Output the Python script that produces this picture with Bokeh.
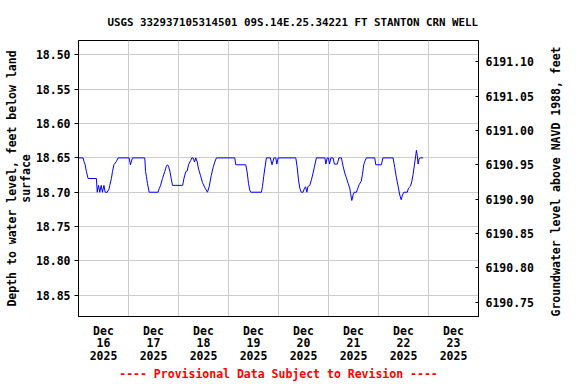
import math
from bokeh.plotting import figure
from bokeh.models import Range1d, LinearAxis, FixedTicker, PrintfTickFormatter
from bokeh.embed import file_html
from bokeh.resources import INLINE

# ---------------- data ----------------
TITLE = "USGS 332937105314501 09S.14E.25.34221 FT STANTON CRN WELL"
LEFT_LABEL = "Depth to water level, feet below land\nsurface"
RIGHT_LABEL = "Groundwater level above NAVD 1988, feet"
CAPTION = "---- Provisional Data Subject to Revision ----"

day_labels = ["Dec\n16\n2025", "Dec\n17\n2025", "Dec\n18\n2025", "Dec\n19\n2025",
              "Dec\n20\n2025", "Dec\n21\n2025", "Dec\n22\n2025", "Dec\n23\n2025"]
depth_ticks = [18.50, 18.55, 18.60, 18.65, 18.70, 18.75, 18.80, 18.85]
elev_ticks = [6190.75, 6190.80, 6190.85, 6190.90, 6190.95, 6191.00, 6191.05, 6191.10]

LAND_SURFACE = 6209.61  # elevation of land surface (ft, NAVD 1988)

# hours since 2025-12-16 00:00
hours = [0.0, 2.2, 2.6, 3.2, 3.8, 4.6, 8.6, 9.0, 9.6, 10.2, 10.9, 11.5, 12.2, 12.8, 13.8,
         14.7, 15.0, 15.8, 16.3, 17.0, 18.2, 19.0, 24.3, 24.9, 25.9, 31.8,
         32.2, 32.6, 33.1, 33.9, 38.2, 38.7, 39.4, 40.3, 41.4, 42.2, 42.7, 43.2, 43.9,
         44.5, 45.1, 50.0, 50.6, 51.5, 52.2, 52.8, 53.8, 54.4, 55.0, 55.7, 56.3, 57.0,
         57.6, 58.6, 59.5, 60.8, 61.9, 62.7, 63.7, 64.6, 65.4, 66.2,
         75.0, 75.5, 80.3, 81.0, 81.6, 82.2, 82.7, 87.8, 88.3, 88.9, 89.6, 90.2, 92.1,
         92.9, 93.8, 94.7, 95.2, 95.8,
         104.3, 104.9, 105.6, 106.2, 106.9, 107.8, 108.5, 109.0, 109.6, 110.1, 111.0,
         111.8, 112.6, 113.3, 114.2, 118.3, 118.7, 119.4, 120.0, 120.5, 121.1, 122.2,
         122.8, 124.2, 125.0, 126.2, 127.0, 127.8, 128.6, 129.4, 130.2, 130.6, 131.2,
         131.8, 132.3,
         133.4, 134.1, 134.7, 135.7, 136.3, 136.9, 137.6, 138.2, 142.2, 142.7, 145.4,
         146.1, 151.0, 151.8, 152.6, 153.4, 154.2, 154.9, 155.5, 156.2, 157.8, 158.4,
         159.4, 160.0, 160.6, 161.3, 161.9, 162.2, 162.6, 163.0, 163.5, 164.2, 165.4]
depth = [18.650, 18.650, 18.655, 18.660, 18.670, 18.680, 18.680, 18.700, 18.690, 18.700,
         18.690, 18.700, 18.690, 18.700, 18.700, 18.695, 18.690, 18.680, 18.670, 18.660,
         18.655, 18.650, 18.650, 18.660, 18.650, 18.650,
         18.670, 18.677, 18.687, 18.700, 18.700, 18.695, 18.690, 18.680, 18.670, 18.662,
         18.660, 18.662, 18.670, 18.680, 18.690, 18.690, 18.680, 18.670, 18.669, 18.660,
         18.654, 18.650, 18.650, 18.656, 18.650, 18.656, 18.666, 18.676, 18.686, 18.694,
         18.700, 18.692, 18.676, 18.664, 18.656, 18.650,
         18.650, 18.660, 18.660, 18.672, 18.687, 18.697, 18.700, 18.700, 18.692, 18.677,
         18.662, 18.650, 18.650, 18.660, 18.650, 18.650, 18.659, 18.650,
         18.650, 18.662, 18.682, 18.694, 18.700, 18.700, 18.694, 18.692, 18.700, 18.692,
         18.690, 18.682, 18.672, 18.662, 18.650, 18.650, 18.659, 18.650, 18.650, 18.659,
         18.650, 18.650, 18.659, 18.659, 18.650, 18.650, 18.662, 18.672, 18.679, 18.687,
         18.694, 18.702, 18.712, 18.704, 18.700,
         18.700, 18.694, 18.689, 18.684, 18.674, 18.660, 18.654, 18.650, 18.650, 18.660,
         18.660, 18.650, 18.650, 18.664, 18.679, 18.691, 18.704, 18.711, 18.704, 18.700,
         18.700, 18.694, 18.691, 18.684, 18.674, 18.659, 18.646, 18.639, 18.646, 18.659,
         18.651, 18.650, 18.650]

# ---------------- layout ----------------
W, H = 576, 384
BL, BR, BT, BB = 78, 98, 40, 68
X0, X1 = 0.0, 8.0
D_TOP, D_BOT = 18.479, 18.881

FONT = "DejaVu Sans Mono"
FS = "11.5px"

x_days = [h / 24.0 for h in hours]

p = figure(width=W, height=H, output_backend="svg", toolbar_location=None,
           x_range=Range1d(X0, X1), y_range=Range1d(D_BOT, D_TOP),
           min_border_left=BL, min_border_right=BR, min_border_top=BT,
           min_border_bottom=BB)
p.background_fill_color = "white"
p.border_fill_color = "white"
p.outline_line_color = "black"
p.outline_line_width = 1
p.outline_line_alpha = 1.0

# title
p.title.text = TITLE
p.title.align = "left"
p.title.offset = 29
p.title.standoff = 24
p.title.text_font = FONT
p.title.text_font_style = "bold"
p.title.text_font_size = "10.8px"
p.title.text_color = "black"

p.line(x_days, depth, line_color="#0000FF", line_width=1)


def style_axis(ax):
    ax.minor_tick_line_color = None
    ax.axis_line_color = "black"
    ax.major_label_text_font = FONT
    ax.major_label_text_font_style = "bold"
    ax.major_label_text_font_size = FS
    ax.major_label_text_color = "black"
    ax.axis_label_text_font = FONT
    ax.axis_label_text_font_style = "bold"
    ax.axis_label_text_font_size = FS
    ax.axis_label_text_color = "black"


# x axis (its label carries the provisional-data caption)
label_pos = [i + 0.5 for i in range(len(day_labels))]
xa = p.xaxis[0]
style_axis(xa)
xa.ticker = FixedTicker(ticks=label_pos)
xa.major_label_overrides = {pos: lab for pos, lab in zip(label_pos, day_labels)}
xa.major_tick_line_color = None
xa.major_tick_out = 0
xa.major_tick_in = 0
xa.major_label_standoff = 7
xa.major_label_text_line_height = 0.9
xa.axis_label = CAPTION
xa.axis_label_text_color = "#FF0000"
xa.axis_label_standoff = 1

# left axis
ya = p.yaxis[0]
style_axis(ya)
ya.ticker = FixedTicker(ticks=depth_ticks)
ya.formatter = PrintfTickFormatter(format="%.2f")
ya.major_tick_out = 4
ya.major_tick_in = 0
ya.major_label_standoff = 4
ya.axis_label = LEFT_LABEL
ya.axis_label_standoff = 0
ya.axis_label_text_line_height = 1.0

# right axis (elevation)
p.extra_y_ranges = {"elev": Range1d(LAND_SURFACE - D_BOT, LAND_SURFACE - D_TOP)}
ra = LinearAxis(y_range_name="elev")
style_axis(ra)
ra.ticker = FixedTicker(ticks=elev_ticks)
ra.formatter = PrintfTickFormatter(format="%.2f")
ra.major_tick_out = 0
ra.major_tick_in = 3
ra.major_label_standoff = 7
ra.axis_label = RIGHT_LABEL
ra.axis_label_standoff = 19
ra.axis_label_orientation = math.pi / 2
ra.axis_label_align = "start"
p.add_layout(ra, "right")

# grids
p.xgrid.ticker = FixedTicker(ticks=[1, 2, 3, 4, 5, 6, 7])
p.xgrid.grid_line_color = "#CCCCCC"
p.xgrid.grid_line_width = 1
p.ygrid.ticker = FixedTicker(ticks=depth_ticks)
p.ygrid.grid_line_color = "#CCCCCC"
p.ygrid.grid_line_width = 1

open("out.html", "w").write(file_html(p, INLINE))
